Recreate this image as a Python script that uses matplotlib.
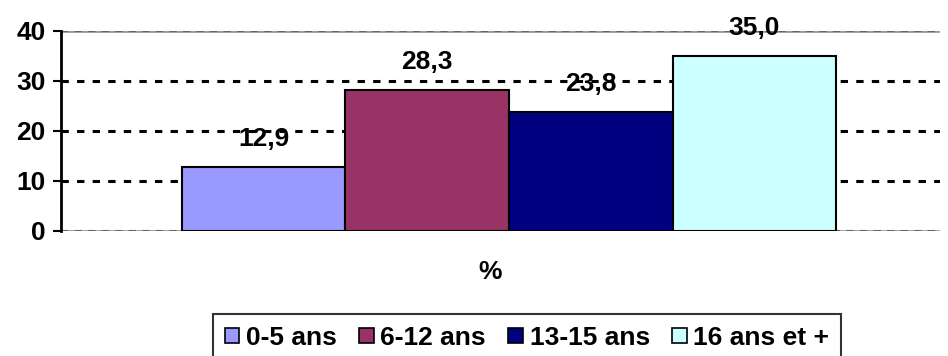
import matplotlib
matplotlib.use("Agg")
import matplotlib.pyplot as plt
from matplotlib.patches import Patch

# data
groups = ["0-5 ans", "6-12 ans", "13-15 ans", "16 ans et +"]
values = [12.9, 28.3, 23.8, 35.0]
colors = ["#9999FF", "#993366", "#000080", "#CCFFFF"]
yticks = [0, 10, 20, 30, 40]

plt.rcParams["font.family"] = ["Liberation Sans", "DejaVu Sans"]
plt.rcParams["font.weight"] = "bold"
FS = 19

W, H = 948, 356
fig = plt.figure(figsize=(W / 100, H / 100), dpi=100)
ax = fig.add_axes([61 / W, 1 - 231 / H, (940 - 61) / W, 200 / H])

x = list(range(len(values)))
ax.bar(x, values, width=1.0, color=colors, edgecolor="black", linewidth=1.5, zorder=3)

for xi, v in zip(x, values):
    ax.annotate(f"{v:.1f}".replace(".", ","), (xi, v), xytext=(0, 20),
                textcoords="offset points", ha="center", va="center",
                fontsize=FS, fontweight="bold", zorder=4)

# gridlines
for t in yticks:
    if t in (0, 40):
        ax.axhline(t, color="#999999", lw=2.0, zorder=1)
        ax.axhline(t, color="#666666", lw=1.5, ls=(0, (3.5, 3)), zorder=2)
    else:
        ax.axhline(t, color="black", lw=2.2, ls=(0, (2.4, 2.7)), zorder=2)

ax.set_xlim(-1.24, 4.136)
ax.set_ylim(0, 40)
ax.set_yticks(yticks)
ax.set_xticks([])
ax.tick_params(axis="y", length=6, width=1.5, labelsize=FS, pad=5)
for lab in ax.get_yticklabels():
    lab.set_fontweight("bold")
for s in ["top", "right", "bottom"]:
    ax.spines[s].set_visible(False)
ax.spines["left"].set_linewidth(2)
ax.spines["left"].set_zorder(5)

fig.text(490 / W, 1 - 272 / H, "%", ha="center", va="center",
         fontsize=FS, fontweight="bold")

handles = [Patch(facecolor=c, edgecolor="black", linewidth=1.2) for c in colors]
leg = fig.legend(handles, groups, loc="upper left",
                 bbox_to_anchor=(213 / W, 1 - 314 / H), ncol=4,
                 frameon=True, fancybox=False, edgecolor="black",
                 prop={"size": FS, "weight": "bold"},
                 handlelength=0.55, handleheight=0.55, handletextpad=0.25,
                 columnspacing=0.85, borderpad=0.45, borderaxespad=0)
leg.get_frame().set_linewidth(1.5)

fig.savefig("out.png", dpi=100)
